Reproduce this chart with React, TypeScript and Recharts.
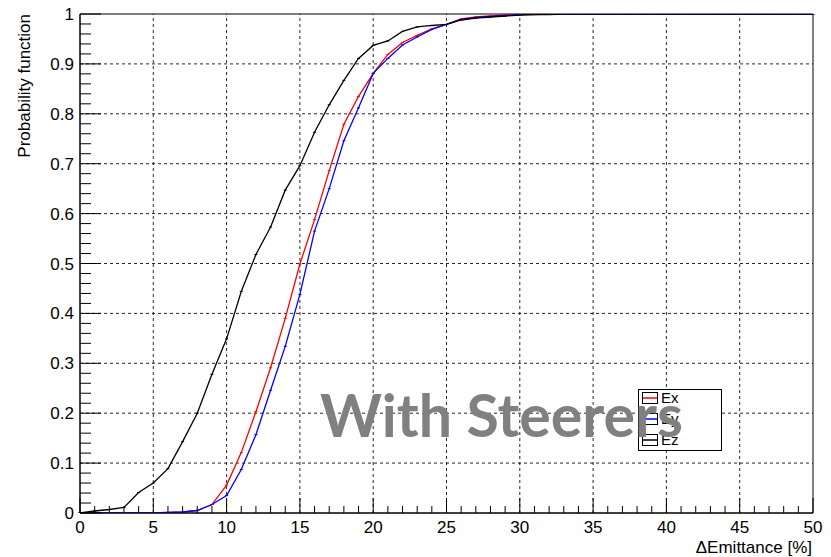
import React from "react";
import {
  LineChart,
  Line,
  XAxis,
  YAxis,
  ReferenceLine,
  ReferenceArea,
  Legend,
} from "recharts";

const xValues = [
  0, 1, 2, 3, 4, 5, 6, 7, 8, 9, 10, 11, 12, 13, 14, 15, 16, 17, 18, 19, 20, 21,
  22, 23, 24, 25, 26, 27, 28, 29, 30, 31, 32, 33, 34, 35, 36, 37, 38, 39, 40,
  41, 42, 43, 44, 45, 46, 47, 48, 49, 50,
];

// Ex (red)
const exValues = [
  0, 0, 0, 0, 0, 0, 0.001, 0.002, 0.005, 0.017, 0.056, 0.121, 0.203, 0.291,
  0.39, 0.499, 0.588, 0.686, 0.779, 0.835, 0.881, 0.919, 0.943, 0.957, 0.97,
  0.979, 0.99, 0.994, 0.996, 0.998, 0.999, 0.999, 1, 1, 1, 1, 1, 1, 1, 1, 1, 1,
  1, 1, 1, 1, 1, 1, 1, 1, 1,
];

// Ey (blue)
const eyValues = [
  0, 0, 0, 0, 0, 0, 0.001, 0.002, 0.005, 0.017, 0.035, 0.087, 0.157, 0.246,
  0.334, 0.438, 0.565, 0.65, 0.746, 0.812, 0.881, 0.911, 0.938, 0.954, 0.969,
  0.979, 0.989, 0.993, 0.995, 0.997, 0.999, 1, 1, 1, 1, 1, 1, 1, 1, 1, 1, 1, 1,
  1, 1, 1, 1, 1, 1, 1, 1,
];

// Ez (black)
const ezValues = [
  0, 0.004, 0.007, 0.011, 0.041, 0.06, 0.089, 0.143, 0.2, 0.278, 0.349, 0.444,
  0.518, 0.573, 0.647, 0.696, 0.763, 0.818, 0.867, 0.911, 0.937, 0.946, 0.965,
  0.974, 0.977, 0.979, 0.988, 0.992, 0.994, 0.996, 0.998, 0.999, 0.999, 1, 1, 1,
  1, 1, 1, 1, 1, 1, 1, 1, 1, 1, 1, 1, 1, 1, 1,
];

const xMajorTicks = [0, 5, 10, 15, 20, 25, 30, 35, 40, 45, 50];
const yMajorTicks = [0, 0.1, 0.2, 0.3, 0.4, 0.5, 0.6, 0.7, 0.8, 0.9, 1];
const xAllTicks = xValues;
const yAllTicks = Array.from({ length: 51 }, (_, i) => i / 50);

const data = xValues.map((x, i) => ({
  x,
  ex: exValues[i],
  ey: eyValues[i],
  ez: ezValues[i],
}));

const FONT = "'Liberation Sans', Arial, Helvetica, sans-serif";

function isYMajor(v: number) {
  return Math.abs(v * 10 - Math.round(v * 10)) < 1e-6;
}

function XTick(props: any) {
  const { x, y, payload } = props;
  const major = payload.value % 5 === 0;
  return (
    <g>
      <line x1={x} x2={x} y1={y} y2={y - (major ? 15 : 7)} stroke="#000" />
      {major && (
        <text x={x} y={y + 20} textAnchor="middle" fontSize={17} fontFamily={FONT} fill="#000">
          {payload.value}
        </text>
      )}
    </g>
  );
}

function YTick(props: any) {
  const { x, y, payload } = props;
  const major = isYMajor(payload.value);
  const label = Math.round(payload.value * 10) / 10;
  return (
    <g>
      <line x1={x} x2={x + (major ? 21 : 11)} y1={y} y2={y} stroke="#000" />
      {major && (
        <text x={x - 6} y={y + 6} textAnchor="end" fontSize={17} fontFamily={FONT} fill="#000">
          {String(label)}
        </text>
      )}
    </g>
  );
}

function PointMark(props: any) {
  const { cx, cy, stroke } = props;
  if (cx == null || cy == null) return null;
  return <line x1={cx - 1.5} x2={cx + 1.5} y1={cy} y2={cy} stroke={stroke} strokeWidth={1} />;
}

function LegendBox(props: any) {
  const items = props.payload || [];
  return (
    <div
      style={{
        width: 84,
        height: 62,
        boxSizing: "border-box",
        border: "1px solid #000",
        background: "#fff",
        paddingLeft: 3,
        fontFamily: FONT,
        overflow: "hidden",
      }}
    >
      <div style={{ marginTop: -3 }}>
        {items.map((item: any) => (
          <div key={item.value} style={{ display: "flex", alignItems: "center", height: 21 }}>
            <svg width={16} height={12}>
              <rect x={0.5} y={0.5} width={15} height={11} fill="none" stroke="#000" />
              <line x1={1} x2={15} y1={6} y2={6} stroke={item.color} strokeWidth={1.5} />
            </svg>
            <span style={{ fontSize: 15, marginLeft: 3, color: "#000" }}>{item.value}</span>
          </div>
        ))}
      </div>
    </div>
  );
}

export default function App() {
  return (
    <div style={{ position: "absolute", left: 0, top: 0, width: 831, height: 557, background: "#fff" }}>
      <LineChart
        width={831}
        height={557}
        data={data}
        margin={{ top: 14, right: 18, left: 0, bottom: 0 }}
      >
        <XAxis
          dataKey="x"
          type="number"
          domain={[0, 50]}
          ticks={xAllTicks}
          interval={0}
          height={44}
          tickSize={0}
          tickMargin={0}
          tickLine={false}
          axisLine={{ stroke: "#000" }}
          tick={<XTick />}
          label={{
            content: () => (
              <text x={812} y={553} textAnchor="end" fontSize={17} fontFamily={FONT} fill="#000">
                ΔEmittance [%]
              </text>
            ),
          }}
        />
        <YAxis
          type="number"
          domain={[0, 1]}
          ticks={yAllTicks}
          interval={0}
          width={80}
          tickSize={0}
          tickMargin={0}
          tickLine={false}
          axisLine={{ stroke: "#000" }}
          tick={<YTick />}
          allowDataOverflow
          label={{
            content: () => (
              <text
                transform="translate(30,14) rotate(-90)"
                textAnchor="end"
                fontSize={17}
                fontFamily={FONT}
                fill="#000"
              >
                Probability function
              </text>
            ),
          }}
        />
        {xMajorTicks.slice(1, -1).map((v) => (
          <ReferenceLine key={"gx" + v} x={v} stroke="#000" strokeDasharray="3 3" strokeOpacity={0.85} />
        ))}
        {yMajorTicks.slice(1, -1).map((v) => (
          <ReferenceLine key={"gy" + v} y={v} stroke="#000" strokeDasharray="3 3" strokeOpacity={0.85} />
        ))}
        <ReferenceArea x1={0} x2={50} y1={0} y2={1} fill="none" stroke="#000" strokeWidth={1} />
        <Line
          type="linear"
          dataKey="ex"
          name="Ex"
          stroke="#ff0000"
          strokeWidth={1.3}
          dot={<PointMark />}
          isAnimationActive={false}
        />
        <Line
          type="linear"
          dataKey="ey"
          name="Ey"
          stroke="#0000ff"
          strokeWidth={1.3}
          dot={<PointMark />}
          isAnimationActive={false}
        />
        <Line
          type="linear"
          dataKey="ez"
          name="Ez"
          stroke="#000000"
          strokeWidth={1.3}
          dot={<PointMark />}
          isAnimationActive={false}
        />
        <Legend
          layout="horizontal"
          align="center"
          verticalAlign="middle"
          content={<LegendBox />}
          wrapperStyle={{ position: "absolute", left: 638, top: 389, width: 84, height: 62 }}
        />
      </LineChart>
      <svg
        width={831}
        height={557}
        style={{ position: "absolute", left: 0, top: 0, pointerEvents: "none" }}
      >
        <text
          x={320}
          y={437}
          textLength={363}
          lengthAdjust="spacingAndGlyphs"
          fontSize={59}
          fontWeight={700}
          fontFamily="Lato, 'Open Sans', sans-serif"
          fill="#808080"
        >
          With Steerers
        </text>
      </svg>
    </div>
  );
}
